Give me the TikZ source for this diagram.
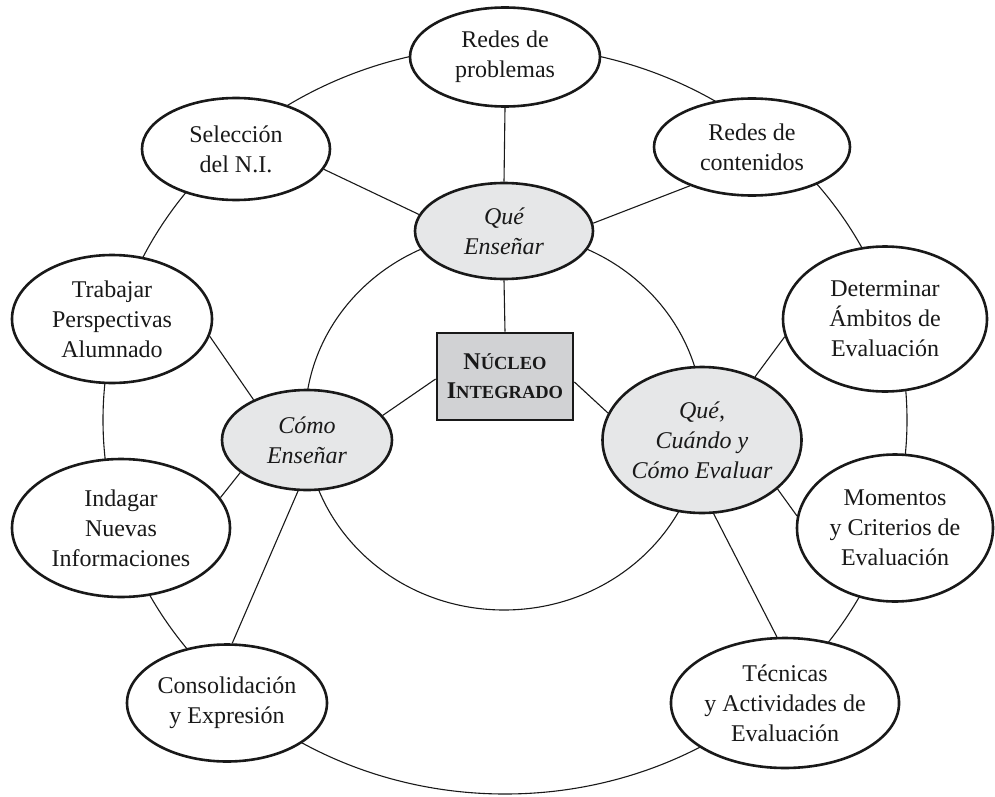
\documentclass[tikz,border=0pt]{standalone}
\usepackage{fontspec}
\setmainfont{Liberation Serif}
\usetikzlibrary{shapes.geometric}
\definecolor{innerfill}{HTML}{E6E7E8}
\definecolor{boxfill}{HTML}{D1D2D4}
\tikzset{
  txt/.style={font=\fontsize{24}{30}\selectfont, align=center, text=black!90},
  outerell/.style={ellipse, draw=black!90, line width=2.6pt, fill=white, inner sep=0pt, txt},
  innerell/.style={ellipse, draw=black!90, line width=2.6pt, fill=innerfill, inner sep=0pt, txt, font=\fontsize{24}{30}\selectfont\itshape},
  corebox/.style={rectangle, draw=black!90, line width=2.8pt, fill=boxfill, inner sep=0pt, txt, font=\fontsize{24}{29}\selectfont\bfseries},
  link/.style={draw=black!90, line width=1.1pt},
  ring/.style={draw=black!90, line width=1.1pt}
}
\newcommand{\smc}[1]{{\fontsize{18.5}{29}\selectfont #1}}
\begin{document}
\begin{tikzpicture}[x=1pt,y=-1pt]
\useasboundingbox (0,0) rectangle (995,797);
% rings
\draw[ring] (505,420) ellipse [x radius=402, y radius=374];
\draw[ring] (504,421) ellipse [x radius=199, y radius=189];
% central box
\node[corebox, minimum width=136pt, minimum height=87pt] (core) at (505,376.5) {N\smc{ÚCLEO}\\I\smc{NTEGRADO}};
% inner ellipses
\node[innerell, minimum width=178pt, minimum height=96pt] (que) at (504,231) {Qué\\Enseñar};
\node[innerell, minimum width=170pt, minimum height=100pt] (como) at (307,440) {Cómo\\Enseñar};
\node[innerell, minimum width=199pt, minimum height=146pt] (eval) at (702,440) {Qué,\\Cuándo y\\Cómo Evaluar};
% outer ellipses
\node[outerell, minimum width=190pt, minimum height=99pt] (rprob) at (505,57) {Redes de\\problemas};
\node[outerell, minimum width=188pt, minimum height=102pt] (sel) at (236,149) {Selección\\del N.I.};
\node[outerell, minimum width=196pt, minimum height=97pt] (rcont) at (752,147) {Redes de\\contenidos};
\node[outerell, minimum width=200pt, minimum height=128pt] (trab) at (112,319) {Trabajar\\Perspectivas\\Alumnado};
\node[outerell, minimum width=204pt, minimum height=145pt] (det) at (885,319) {Determinar\\Ámbitos de\\Evaluación};
\node[outerell, minimum width=218pt, minimum height=138pt] (ind) at (121,528) {Indagar\\Nuevas\\Informaciones};
\node[outerell, minimum width=196pt, minimum height=147pt] (mom) at (895,528) {Momentos\\y Criterios de\\Evaluación};
\node[outerell, minimum width=200pt, minimum height=117pt] (cons) at (227,703) {Consolidación\\y Expresión};
\node[outerell, minimum width=216pt, minimum height=130pt] (tec) at (785,703) {Técnicas\\y Actividades de\\Evaluación};
% connectors
\draw[link] (rprob.south) -- (que.north);
\draw[link] (que.south) -- (core.north);
\draw[link] (sel.-13.6) -- (que.169.9);
\draw[link] (rcont.212.8) -- (que.5.8);
\draw[link] ([yshift=-2.5pt]core.west) -- (como.18.2);
\draw[link] ([yshift=-5.5pt]core.east) -- (eval.164.3);
\draw[link] (trab.-10.4) -- (como.143.6);
\draw[link] (ind.17.7) -- (como.206.9);
\draw[link] (cons.85) -- (como.-100.2);
\draw[link] (det.190.2) -- (eval.50);
\draw[link] (mom.173.4) -- (eval.-33.3);
\draw[link] (tec.97.9) -- (eval.-81.7);
\end{tikzpicture}
\end{document}
